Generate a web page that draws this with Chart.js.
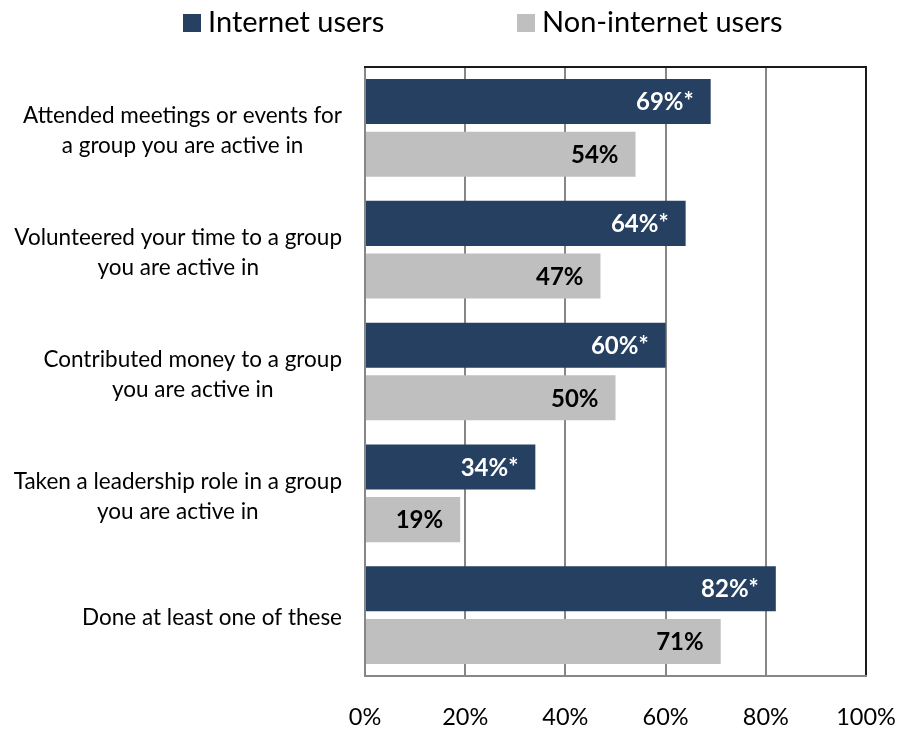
<!DOCTYPE html>
<html>
<head>
<meta charset="utf-8">
<title>Group activity: internet vs non-internet users</title>
<script src="https://cdn.jsdelivr.net/npm/chart.js@4"></script>
<style>
    html, body { margin: 0; padding: 0; background: #ffffff; }
    canvas { display: block; }
</style>
</head>
<body>
<canvas id="groupChart" width="899" height="730"></canvas>
<script>
// Category labels, one array of lines per row
var categories = [
    ["Attended meetings or events for", "a group you are active in"],
    ["Volunteered your time to a group", "you are active in"],
    ["Contributed money to a group", "you are active in"],
    ["Taken a leadership role in a group", "you are active in"],
    ["Done at least one of these"]
];
var seriesNames = ["Internet users", "Non-internet users"];
var internetUsers = [69, 64, 60, 34, 82];
var nonInternetUsers = [54, 47, 50, 19, 71];
// "*" = significant difference vs. non-internet users
var internetMarks = ["*", "*", "*", "*", "*"];
var nonInternetMarks = ["", "", "", "", ""];
var xTicks = [0, 20, 40, 60, 80, 100];

var FONT = "Lato, 'Open Sans', sans-serif";
var NAVY = "#254061";
var GREY = "#bfbfbf";

// Wrapped row labels: block right-aligned, lines centred inside it
var rowLabels = {
    id: "rowLabels",
    afterDraw: function (chart) {
        var ctx = chart.ctx;
        var yScale = chart.scales.y;
        var right = chart.chartArea.left - 23;
        var lineHeight = 30;
        ctx.save();
        ctx.font = "22.5px " + FONT;
        ctx.fillStyle = "#000000";
        ctx.textAlign = "center";
        ctx.textBaseline = "middle";
        categories.forEach(function (lines, i) {
            var widest = 0;
            lines.forEach(function (line) {
                widest = Math.max(widest, ctx.measureText(line).width);
            });
            var cx = right - widest / 2;
            var cy = yScale.getPixelForTick(i) + 3;
            var top = cy - (lines.length - 1) * lineHeight / 2;
            lines.forEach(function (line, j) {
                ctx.fillText(line, cx, top + j * lineHeight);
            });
        });
        ctx.restore();
    }
};

// Percent labels inside the end of each bar
var valueLabels = {
    id: "valueLabels",
    afterDatasetsDraw: function (chart) {
        var ctx = chart.ctx;
        var marks = [internetMarks, nonInternetMarks];
        var colors = ["#ffffff", "#000000"];
        ctx.save();
        ctx.font = "bold 24px " + FONT;
        ctx.textAlign = "right";
        ctx.textBaseline = "middle";
        chart.data.datasets.forEach(function (ds, d) {
            var meta = chart.getDatasetMeta(d);
            ctx.fillStyle = colors[d];
            meta.data.forEach(function (bar, i) {
                ctx.fillText(ds.data[i] + "%" + marks[d][i], bar.x - 17, bar.y + 1);
            });
        });
        ctx.restore();
    }
};

// Legend row above the plot
var topLegend = {
    id: "topLegend",
    afterDraw: function (chart) {
        var ctx = chart.ctx;
        var x = chart.chartArea.left - 182;
        var y = 14;
        var box = 18;
        ctx.save();
        ctx.font = "29px " + FONT;
        ctx.textAlign = "left";
        ctx.textBaseline = "middle";
        chart.data.datasets.forEach(function (ds, d) {
            var left = x + d * 334;
            ctx.fillStyle = ds.backgroundColor;
            ctx.fillRect(left, y, box, box);
            ctx.fillStyle = "#000000";
            ctx.fillText(ds.label, left + box + 7, y + box / 2);
        });
        ctx.restore();
    }
};

// Dark frame along the top of the plot area
var plotFrame = {
    id: "plotFrame",
    afterDraw: function (chart) {
        var ctx = chart.ctx;
        var a = chart.chartArea;
        ctx.save();
        ctx.strokeStyle = "#1a1a1a";
        ctx.lineWidth = 2;
        ctx.beginPath();
        ctx.moveTo(a.left - 1, a.top);
        ctx.lineTo(a.right + 1, a.top);
        ctx.stroke();
        ctx.restore();
    }
};

var ctx = document.getElementById("groupChart").getContext("2d");
var chart = new Chart(ctx, {
    type: "bar",
    data: {
        labels: categories,
        datasets: [
            {
                label: seriesNames[0],
                data: internetUsers,
                backgroundColor: NAVY,
                categoryPercentage: 0.865,
                barPercentage: 0.855
            },
            {
                label: seriesNames[1],
                data: nonInternetUsers,
                backgroundColor: GREY,
                categoryPercentage: 0.865,
                barPercentage: 0.855
            }
        ]
    },
    options: {
        indexAxis: "y",
        responsive: false,
        animation: false,
        layout: {
            padding: { top: 67, right: 33, bottom: 0, left: 0 }
        },
        plugins: {
            legend: { display: false },
            tooltip: { enabled: false }
        },
        scales: {
            x: {
                min: 0,
                max: 100,
                afterBuildTicks: function (scale) {
                    scale.ticks = xTicks.map(function (v) { return { value: v }; });
                },
                afterFit: function (scale) {
                    scale.height = 54;
                    scale.paddingLeft = 0;
                    scale.paddingRight = 0;
                },
                ticks: {
                    padding: 27,
                    color: "#000000",
                    font: { family: FONT, size: 23.5 },
                    callback: function (value) { return value + "%"; }
                },
                grid: {
                    drawTicks: false,
                    lineWidth: 2,
                    color: function (c) {
                        return c.tick && c.tick.value === 100 ? "#1a1a1a" : "#868686";
                    }
                },
                border: { color: "#868686", width: 2 }
            },
            y: {
                ticks: { display: false },
                grid: { display: false, drawTicks: false },
                border: { display: false },
                afterFit: function (scale) {
                    scale.width = 365;
                }
            }
        }
    },
    plugins: [rowLabels, valueLabels, topLegend, plotFrame]
});
</script>
</body>
</html>
